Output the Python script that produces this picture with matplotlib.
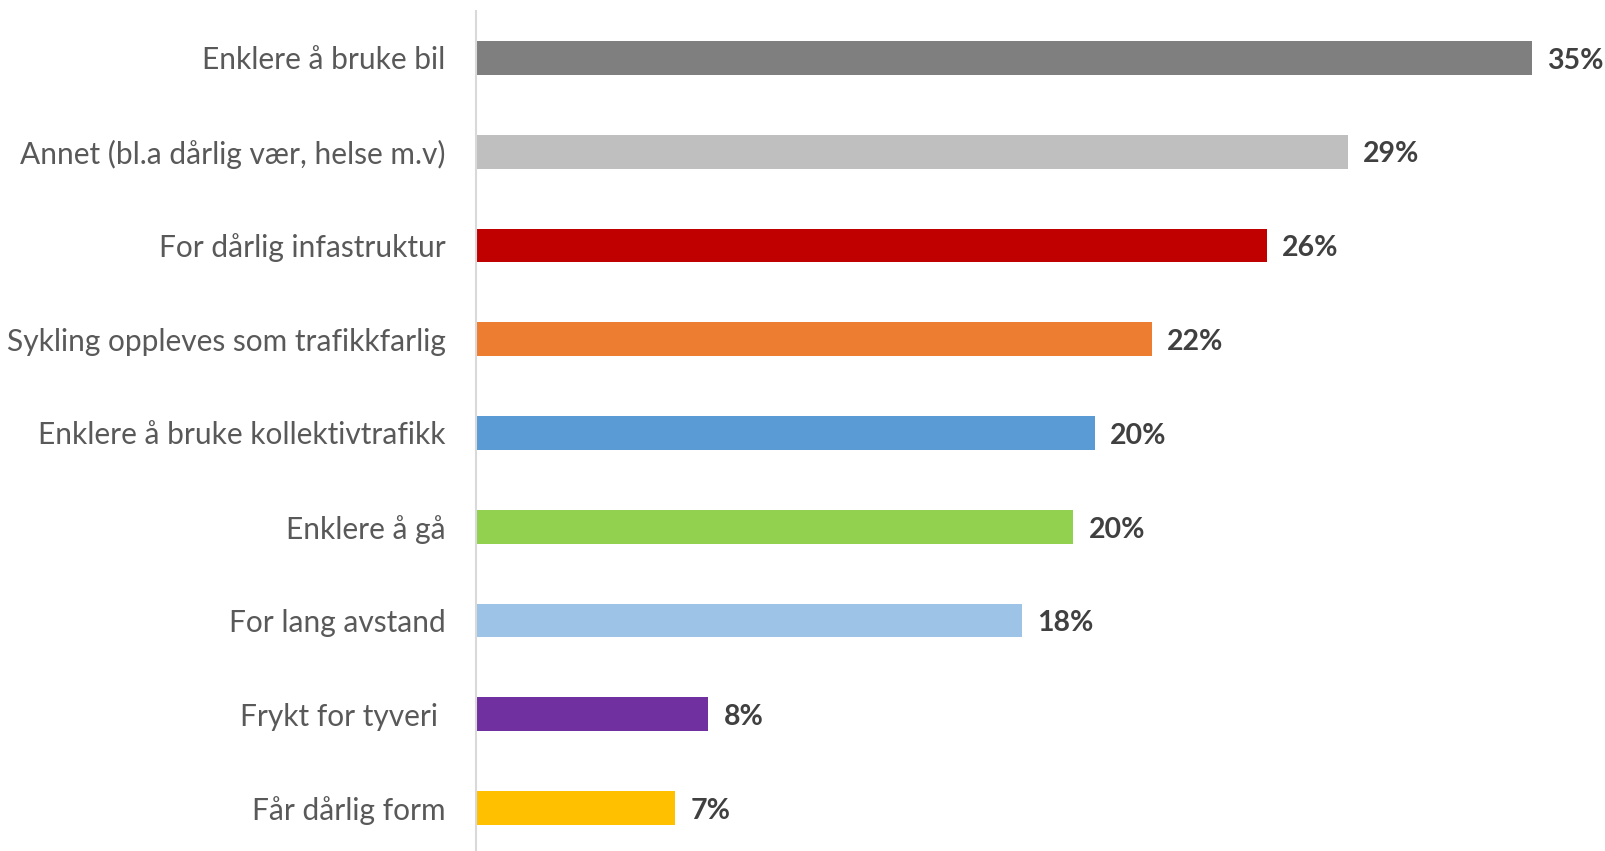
import matplotlib
matplotlib.use("Agg")
from matplotlib import pyplot as plt

# reasons, top to bottom
categories = [
    "Enklere å bruke bil",
    "Annet (bl.a dårlig vær, helse m.v)",
    "For dårlig infastruktur",
    "Sykling oppleves som trafikkfarlig",
    "Enklere å bruke kollektivtrafikk",
    "Enklere å gå",
    "For lang avstand",
    "Frykt for tyveri ",
    "Får dårlig form",
]
values = [35.0, 28.9, 26.2, 22.4, 20.5, 19.8, 18.1, 7.7, 6.6]
value_labels = ["35%", "29%", "26%", "22%", "20%", "20%", "18%", "8%", "7%"]
colors = ["#7F7F7F", "#BFBFBF", "#C00000", "#ED7D31", "#5B9BD5",
          "#92D050", "#9DC3E6", "#7030A0", "#FFC000"]

plt.rcParams['font.family'] = ['Lato', 'DejaVu Sans']

fig = plt.figure(figsize=(16.06, 8.51), dpi=100)
ax = fig.add_axes([476 / 1606, -4 / 851, 1130 / 1606, 844 / 851])

ypos = list(range(len(categories)))
ax.barh(ypos, values, height=0.36, color=colors)
ax.set_ylim(8.5, -0.5)
ax.set_xlim(0, 37.45)

for y, v, lab in zip(ypos, values, value_labels):
    ax.text(v + 0.5, y + 0.03, lab, va='center', ha='left', fontsize=20.5,
            fontweight='bold', color='#404040')

ax.set_yticks(ypos)
ax.set_yticklabels(categories, fontsize=21.5, color='#595959')
ax.tick_params(axis='y', length=0, pad=22)
ax.set_xticks([])
for s in ['top', 'right', 'bottom']:
    ax.spines[s].set_visible(False)
ax.spines['left'].set_color('#D9D9D9')
ax.spines['left'].set_linewidth(1.5)

plt.savefig("out.png", dpi=100)
